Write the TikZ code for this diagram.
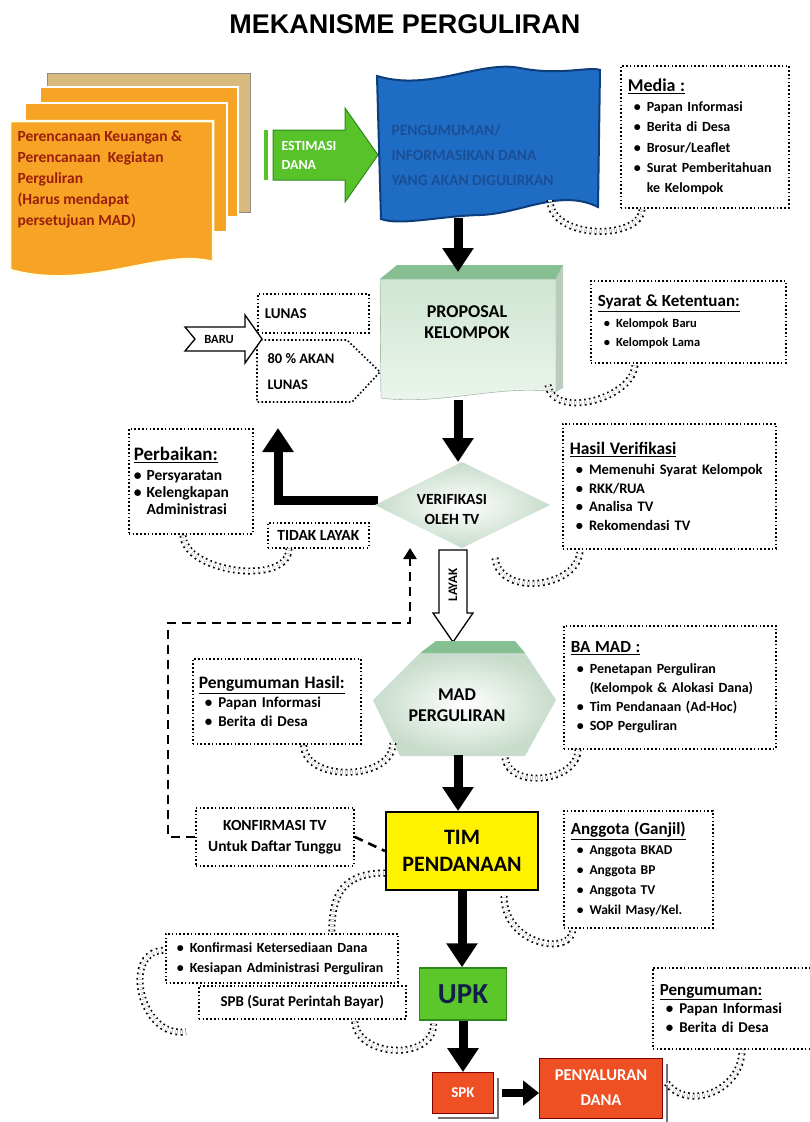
\documentclass[tikz,border=0pt]{standalone}
\usepackage{fontspec}
\setmainfont{Carlito}
\newfontfamily\titlefont{Liberation Sans}
\usetikzlibrary{arrows.meta,calc}
\definecolor{orng}{HTML}{F7A325}
\definecolor{tan}{HTML}{D9B97E}
\definecolor{planred}{HTML}{9B1F0C}
\definecolor{grn}{HTML}{57C22A}
\definecolor{grndark}{HTML}{2F8A1C}
\definecolor{blu}{HTML}{1F6CC4}
\definecolor{bludark}{HTML}{0E3D7C}
\definecolor{blutext}{HTML}{1A4F96}
\definecolor{mint}{HTML}{CFE6D3}
\definecolor{topgrn}{HTML}{86BF92}
\definecolor{yel}{HTML}{FFF200}
\definecolor{upkg}{HTML}{5CC72B}
\definecolor{navy}{HTML}{10204A}
\definecolor{redd}{HTML}{EE5024}
\newcommand\bu{\hspace*{6pt}\textbullet\hspace{6pt}}
\newcommand\bc{\hspace*{6pt}\phantom{\textbullet}\hspace{6pt}}
\newcommand\ttl[2]{{\fontsize{#1}{#1}\selectfont\underline{#2}}}
\newcommand\fs[2]{\bfseries\fontsize{#1}{#2}\selectfont}
\begin{document}
\begin{tikzpicture}[x=1pt,y=-1pt,
  inv/.style={inner sep=0pt, outer sep=0pt, draw=none},
  dline/.style={line width=1.6pt, dash pattern=on 1.6pt off 2.2pt},
  dbox/.style={draw, dline, anchor=north west, inner sep=7pt, align=left, font=\fs{13}{19}},
  bigarr/.style={line width=9pt, -{Triangle[width=30pt,length=24pt]}},
  curl/.style={draw=black, double=white, double distance=3.6pt, line width=1.7pt, dash pattern=on 1.7pt off 3.3pt},
  dasharr/.style={line width=2.6pt, dash pattern=on 9pt off 6pt},
  lbl/.style={font=\fs{18}{21}, align=center}
]
\useasboundingbox (0,0) rectangle (810,1122);
\fill[white] (0,0) rectangle (810,1122);

% title
\node[font=\titlefont\bfseries\fontsize{27}{30}\selectfont] (title) at (405,24) {MEKANISME PERGULIRAN};

% stacked planning sheets
\filldraw[fill=tan, draw=black!45, line width=1pt] (47,73) rectangle (250,212);
\filldraw[fill=orng, draw=white, line width=2.5pt] (40,87) rectangle (238,217);
\filldraw[fill=orng, draw=white, line width=2.5pt] (25,103) rectangle (227,232);
\filldraw[fill=orng, draw=white!90!yellow, line width=2.5pt] (10,121) -- (213,121) -- (213,262) .. controls (160,248) and (90,292) .. (10,270) -- cycle;
\node[anchor=north west, align=left, text=planred, font=\fs{15.5}{21}] (plan) at (14,127)
  {Perencanaan Keuangan \&\\Perencanaan\ \ Kegiatan\\Perguliran\\(Harus mendapat\\persetujuan MAD)};

% green estimation arrow
\fill[grn] (264,130) rectangle (268,180);
\filldraw[fill=grn, draw=grndark, line width=1pt] (273,130) -- (345,130) -- (345,108) -- (378,155) -- (345,202) -- (345,180) -- (273,180) -- cycle;
\node[anchor=west, align=left, text=white, font=\fs{14}{19}] (est) at (278,155) {ESTIMASI\\DANA};

% blue wavy announcement
\filldraw[fill=blu, draw=bludark, line width=2pt] (377,76) .. controls (430,92) and (480,60) .. (520,68) .. controls (560,76) and (590,66) .. (600,70) -- (598,207) .. controls (560,188) and (520,214) .. (480,215) .. controls (440,216) and (400,226) .. (381,219) -- cycle;
\node[inv, minimum width=200pt, minimum height=146pt] (blue) at (458,145) {};
\node[anchor=west, align=left, text=blutext, font=\fs{15.5}{25}] (bluetxt) at (388,155) {PENGUMUMAN/\\INFORMASIKAN DANA\\YANG AKAN DIGULIRKAN};

\node[dbox, minimum width=168pt, minimum height=142pt, text width=154pt, font=\fs{14}{20.3}] (media) at (620,65)
  {\ttl{18}{Media :}\\ \bu Papan Informasi\\ \bu Berita di Desa\\ \bu Brosur/Leaflet\\ \bu Surat Pemberitahuan\\ \bc ke Kelompok};
\draw[curl] ($(blue.south east)+(-8,-18)$) .. controls +(0,40) and +(0,32) .. ($(media.south west)+(22,0)$);

% proposal
\shade[top color=mint, bottom color=mint!40!white, draw=mint!70!black, line width=0.4pt] (380,279) -- (556,279) -- (556,392) .. controls (500,384) and (440,406) .. (381,398) -- cycle;
\fill[topgrn] (380,279) -- (397,265) -- (563,265) -- (556,279) -- cycle;
\fill[mint!75!gray] (556,279) -- (563,265) -- (563,388) -- (556,392) -- cycle;
\node[inv, minimum width=170pt, minimum height=128pt] (prop) at (458,336) {};
\draw[bigarr] (blue.south) -- (prop.north);
\node[lbl] (proptxt) at (467,322) {PROPOSAL\\KELOMPOK};

\node[dbox, minimum width=111pt, minimum height=39pt, text width=97pt, font=\fs{15}{19}] (lunas) at (257,293) {LUNAS};
\draw[dline] (257,340) -- (347,340) -- (380,372) -- (352,402) -- (257,402) -- cycle;
\node[anchor=west, align=left, font=\fs{14.5}{26}] (akan) at (264,372) {80 \% AKAN\\LUNAS};
\draw[line width=1.3pt, fill=white] (185,327) -- (245,327) -- (245,315) -- (262,339) -- (245,363) -- (245,351) -- (185,351) -- (195,339) -- cycle;
\node[font=\fs{12.5}{13}] (baru) at (219,339) {BARU};

\node[dbox, minimum width=195pt, minimum height=82pt, text width=181pt, font=\fs{12.5}{19}] (syarat) at (590,280)
  {\ttl{17}{Syarat \& Ketentuan:}\\[2pt] \bu Kelompok Baru\\ \bu Kelompok Lama};
\draw[curl] ($(prop.south east)+(5,-15)$) .. controls +(5,35) and +(0,35) .. ($(syarat.south west)+(45,0)$);

% verification
\node[inv, minimum width=170pt, minimum height=86pt] (ver) at (458,505) {};
\draw[bigarr] (prop.south) -- (ver.north);
\coordinate (lup) at (278,428);
\draw[bigarr, line join=miter] ($(ver.west)+(5,-5)$) -| (lup);
\shade[inner color=white, outer color=mint!90!gray] (375,505) -- (462,462) -- (550,505) -- (462,548) -- cycle;
\node[font=\fs{15.5}{20}, align=center] (vertxt) at (452,509) {VERIFIKASI\\OLEH TV};

\node[dbox, minimum width=124pt, minimum height=105pt, text width=114pt, inner sep=5pt, font=\fs{15.5}{17}] (perb) at (128,428)
  {\ttl{19}{Perbaikan:}\\[3pt] \textbullet\hspace{5pt}Persyaratan\\ \textbullet\hspace{5pt}Kelengkapan\\ \phantom{\textbullet}\hspace{5pt}Administrasi};
\node[dbox, minimum width=101pt, minimum height=25pt, inner sep=2pt, align=center, font=\fs{15.5}{16}] (tidak) at (267,522) {TIDAK LAYAK};
\draw[curl] ($(tidak.south west)+(22,0)$) .. controls +(0,38) and +(0,38) .. ($(perb.south west)+(55,0)$);

\node[dbox, minimum width=213pt, minimum height=125pt, text width=199pt, font=\fs{14.5}{18.5}] (hasil) at (562,423)
  {\ttl{17.5}{Hasil Verifikasi}\\[2pt] \bu Memenuhi Syarat Kelompok\\ \bu RKK/RUA\\ \bu Analisa TV\\ \bu Rekomendasi TV};
\draw[curl] ($(ver.south)+(37,10)$) .. controls +(5,40) and +(0,38) .. ($(hasil.south west)+(18,0)$);

% LAYAK arrow
\draw[line width=1.3pt, fill=white] (439,550) -- (467,550) -- (467,613) -- (473,613) -- (453,642) -- (433,613) -- (439,613) -- cycle;
\node[rotate=90, font=\fs{13}{13}] (layak) at (453,585) {LAYAK};

% MAD
\node[inv, minimum width=170pt, minimum height=114pt] (mad) at (458,698) {};
\shade[inner color=white, outer color=mint!90!gray] (420,653) -- (525,653) -- (556,700) -- (525,756) -- (400,756) -- (373,700) -- cycle;
\fill[topgrn] (420,653) -- (436,641) -- (515,641) -- (525,653) -- cycle;
\node[lbl] (madtxt) at (457,705) {MAD\\PERGULIRAN};

\node[dbox, minimum width=168pt, minimum height=85pt, text width=156pt, inner sep=6pt, font=\fs{15}{19}] (penghasil) at (192,658)
  {\ttl{17.5}{Pengumuman Hasil:}\\ \bu Papan Informasi\\ \bu Berita di Desa};
\draw[curl] ($(mad.south)+(-65,-12)$) .. controls +(0,38) and +(0,38) .. ($(penghasil.south east)+(-58,0)$);

\node[dbox, minimum width=212pt, minimum height=123pt, text width=198pt, font=\fs{14}{19}] (bamad) at (563,625)
  {\ttl{17}{BA MAD :}\\[2pt] \bu Penetapan Perguliran\\ \bc (Kelompok \& Alokasi Dana)\\ \bu Tim Pendanaan (Ad-Hoc)\\ \bu SOP Perguliran};
\draw[curl] ($(mad.south)+(47,3)$) .. controls +(5,32) and +(0,32) .. ($(bamad.south west)+(15,0)$);

% TIM PENDANAAN
\node[draw, line width=2pt, fill=yel, minimum width=152pt, minimum height=78pt, font=\fs{22}{27}, align=center] (tim) at (462,851) {TIM\\PENDANAAN};
\draw[bigarr] (mad.south) -- (mad.south |- tim.north);

\node[dbox, minimum width=158pt, minimum height=58pt, inner sep=3pt, align=center, font=\fs{15.5}{21}] (konf) at (195,807) {KONFIRMASI TV\\Untuk Daftar Tunggu};
\coordinate (dl) at (168,623);
\coordinate (dtip) at (410,548);
\draw[dasharr] (konf.east) -- (tim.west);
\draw[dasharr, -{Triangle[width=13pt,length=11pt]}] (konf.west) -| (dl) -| (dtip);

\node[dbox, minimum width=149pt, minimum height=117pt, text width=135pt, font=\fs{13.5}{20}] (anggota) at (563,810)
  {\ttl{17}{Anggota (Ganjil)}\\ \bu Anggota BKAD\\ \bu Anggota BP\\ \bu Anggota TV\\ \bu Wakil Masy/Kel.};
\draw[curl] ($(tim.south east)+(-35,5)$) .. controls +(0,50) and +(0,28) .. ($(anggota.south west)+(10,0)$);

% UPK
\node[draw=grndark, line width=1.5pt, fill=upkg, minimum width=87pt, minimum height=52pt, font=\fs{29}{30}, text=navy] (upk) at (463,994) {UPK};
\draw[bigarr] (tim.south) -- (tim.south |- upk.north);

\node[dbox, minimum width=232pt, minimum height=49pt, text width=226pt, inner sep=3pt, font=\fs{14}{20}] (keters) at (165,933)
  {\hspace*{8pt}\textbullet\hspace{6pt}Konfirmasi Ketersediaan Dana\\ \hspace*{8pt}\textbullet\hspace{6pt}Kesiapan Administrasi Perguliran};
\node[dbox, minimum width=207pt, minimum height=33pt, inner sep=2pt, align=center, font=\fs{15}{16}] (spb) at (198,985) {SPB (Surat Perintah Bayar)};
\draw[curl] ($(tim.west)+(0,22)$) .. controls +(-45,0) and +(0,-35) .. ($(keters.north)+(50,0)$);
\draw[curl] ($(keters.west)+(-2,-8)$) .. controls +(-42,2) and +(-45,8) .. ($(spb.south west)+(-12,12)$);
\draw[curl] ($(upk.south west)+(15,3)$) .. controls +(0,38) and +(0,38) .. ($(spb.south east)+(-52,0)$);

% SPK and PENYALURAN
\node[draw=red!50!black, line width=0.8pt, fill=redd, minimum width=61pt, minimum height=41pt, font=\fs{15}{16}, text=white] (spk) at (463,1093) {SPK};
\draw[line width=1.2pt, black!55] ($(spk.north east)+(4,6)$) -- ($(spk.south east)+(4,4)$) -- ($(spk.south west)+(6,4)$);
\draw[bigarr] (upk.south) -- (spk.north);
\node[draw=red!50!black, line width=0.8pt, fill=redd, minimum width=123pt, minimum height=60pt, font=\fs{16.5}{25}, text=white, align=center] (peny) at (601,1088) {PENYALURAN\\DANA};
\draw[line width=1.2pt, black!55] ($(peny.north east)+(4,6)$) -- ($(peny.south east)+(4,4)$) -- ($(peny.south west)+(6,4)$);
\draw[line width=8pt, -{Triangle[width=24pt,length=16pt]}, shorten <=8pt] (spk.east) -- (spk.east -| peny.west);

\node[dbox, minimum width=162pt, minimum height=81pt, text width=148pt, font=\fs{15}{18.5}] (peng) at (652,967)
  {\ttl{17}{Pengumuman:}\\ \bu Papan Informasi\\ \bu Berita di Desa};
\draw[curl] ($(peny.east)+(4,-5)$) .. controls +(20,28) and +(0,42) .. ($(peng.south west)+(90,0)$);
\end{tikzpicture}
\end{document}
